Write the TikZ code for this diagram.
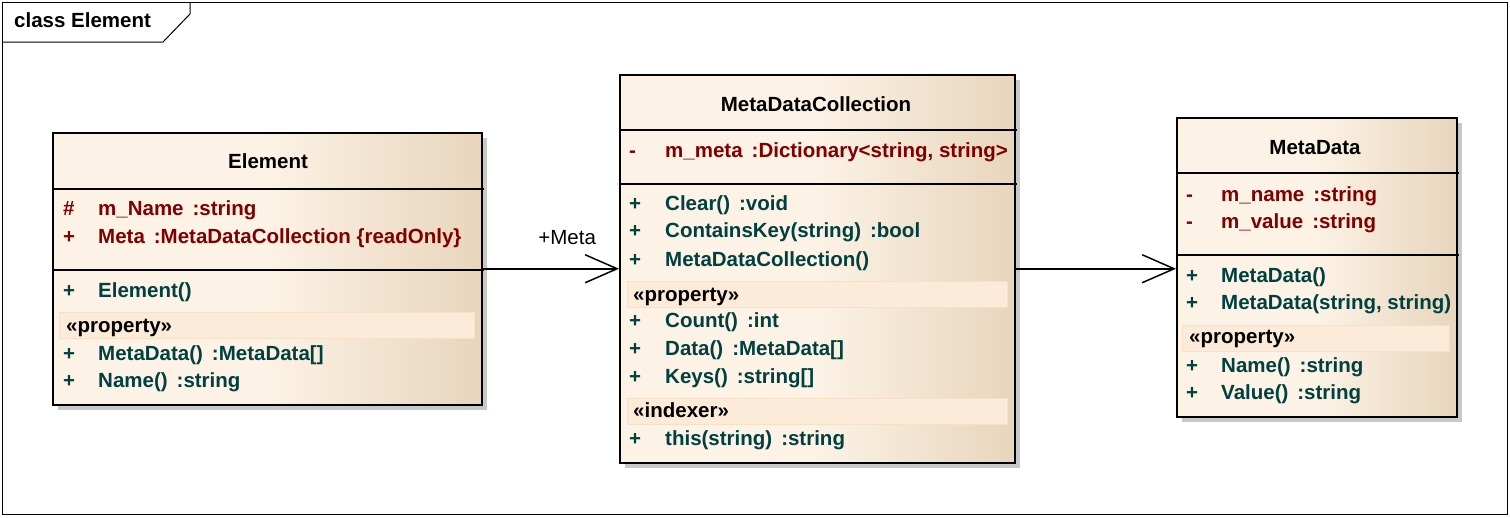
\documentclass[tikz,border=0pt]{standalone}
\usepackage{fontspec}
\setmainfont{Liberation Sans}
\usetikzlibrary{arrows.meta, positioning, calc, shadows}
\definecolor{ClassLight}{HTML}{FCF2E5}
\definecolor{ClassDark}{HTML}{E8D5BC}
\definecolor{BandFill}{HTML}{FBEBD8}
\definecolor{BandEdge}{HTML}{F6E1C6}
\definecolor{AttrRed}{HTML}{800000}
\definecolor{OpTeal}{HTML}{004040}
\definecolor{ShadowGrey}{HTML}{C8C8C8}
\pgfdeclarehorizontalshading{classshade}{100bp}{color(0bp)=(ClassLight);
  color(25bp)=(ClassLight); color(50bp)=(ClassLight);
  color(75bp)=(ClassDark); color(100bp)=(ClassDark)}
\newcommand{\umlfont}{\fontsize{20.5}{24}\selectfont\bfseries}
\newcommand{\typegap}{\hspace{9pt}}

\begin{document}
\begin{tikzpicture}[x=1pt, y=-1pt,
    classbox/.style={draw, line width=1.5pt, shading=classshade,
      anchor=north west, inner sep=0pt,
      drop shadow={shadow xshift=5pt, shadow yshift=-5pt,
        fill=ShadowGrey, opacity=1}},
    divider/.style={line width=1.3pt},
    band/.style={fill=BandFill, draw=BandEdge, line width=1pt},
    title/.style={anchor=base, inner sep=0pt, font=\umlfont},
    vis/.style={anchor=base west, inner sep=0pt, font=\umlfont},
    attr/.style={vis, text=AttrRed},
    oper/.style={vis, text=OpTeal},
    stereo/.style={vis},
    assoc/.style={-{Straight Barb[length=32pt, width=28pt, line width=1.5pt]},
      line width=1.5pt}]

  % frame
  \useasboundingbox (0,0) rectangle (1510,517);
  \fill[white] (0,0) rectangle (1510,517);
  \draw[line width=1pt] (2,2) rectangle (1507,514);
  \draw[line width=1pt] (2,42) -- (163,42) -- (190,14) -- (190,2);
  \node[vis] (frametitle) at (14,27) {class Element};

  % Element
  \node[classbox, minimum width=429pt, minimum height=272pt] (el) at (52,132) {};
  \draw[divider] (52,189) -- (484,189);
  \draw[divider] (52,270) -- (484,270);
  \draw[band] (59,312) rectangle (474,338);
  \node[title] (eltitle) at (268,168) {Element};
  \node[attr] at (63,215) {\#};
  \node[attr] at (98,215) {m\_Name\typegap:string};
  \node[attr] at (63,243) {+};
  \node[attr] at (98,243) {Meta\typegap:MetaDataCollection \{readOnly\}};
  \node[oper] at (63,297) {+};
  \node[oper] at (98,297) {Element()};
  \node[stereo] at (66,332) {«property»};
  \node[oper] at (63,360) {+};
  \node[oper] at (98,360) {MetaData()\typegap:MetaData[]};
  \node[oper] at (63,387) {+};
  \node[oper] at (98,387) {Name()\typegap:string};

  % MetaDataCollection
  \node[classbox, minimum width=395pt, minimum height=388pt] (mdc) at (619,74) {};
  \draw[divider] (619,130) -- (1017,130);
  \draw[divider] (619,184) -- (1017,184);
  \draw[band] (627,281) rectangle (1007,307);
  \draw[band] (627,398) rectangle (1007,424);
  \node[title] (mdctitle) at (816,111) {MetaDataCollection};
  \node[attr] at (629,157) {-};
  \node[attr] at (665,157) {m\_meta\typegap:Dictionary<string, string>};
  \node[oper] at (629,210) {+};
  \node[oper] at (665,210) {Clear()\typegap:void};
  \node[oper] at (629,237) {+};
  \node[oper] at (665,237) {ContainsKey(string)\typegap:bool};
  \node[oper] at (629,266) {+};
  \node[oper] at (665,266) {MetaDataCollection()};
  \node[stereo] at (633,301) {«property»};
  \node[oper] at (629,327) {+};
  \node[oper] at (665,327) {Count()\typegap:int};
  \node[oper] at (629,355) {+};
  \node[oper] at (665,355) {Data()\typegap:MetaData[]};
  \node[oper] at (629,383) {+};
  \node[oper] at (665,383) {Keys()\typegap:string[]};
  \node[stereo] at (633,417) {«indexer»};
  \node[oper] at (629,445) {+};
  \node[oper] at (665,445) {this(string)\typegap:string};

  % MetaData
  \node[classbox, minimum width=280pt, minimum height=299pt] (md) at (1176,117) {};
  \draw[divider] (1176,173) -- (1459,173);
  \draw[divider] (1176,255) -- (1459,255);
  \draw[band] (1182,325) rectangle (1449,351);
  \node[title] (mdtitle) at (1315,154) {MetaData};
  \node[attr] at (1186,201) {-};
  \node[attr] at (1221,201) {m\_name\typegap:string};
  \node[attr] at (1186,228) {-};
  \node[attr] at (1221,228) {m\_value\typegap:string};
  \node[oper] at (1186,282) {+};
  \node[oper] at (1221,282) {MetaData()};
  \node[oper] at (1186,309) {+};
  \node[oper] at (1221,309) {MetaData(string, string)};
  \node[stereo] at (1189,343) {«property»};
  \node[oper] at (1186,372) {+};
  \node[oper] at (1221,372) {Name()\typegap:string};
  \node[oper] at (1186,399) {+};
  \node[oper] at (1221,399) {Value()\typegap:string};

  % associations
  \draw[assoc] (el.east) -- (mdc.west)
    node[pos=0.62, above=23pt, inner sep=0pt,
         font=\fontsize{20.5}{24}\selectfont] (metalabel) {+Meta};
  \draw[assoc] (mdc.east) -- (mdc.east -| md.west);
\end{tikzpicture}
\end{document}
